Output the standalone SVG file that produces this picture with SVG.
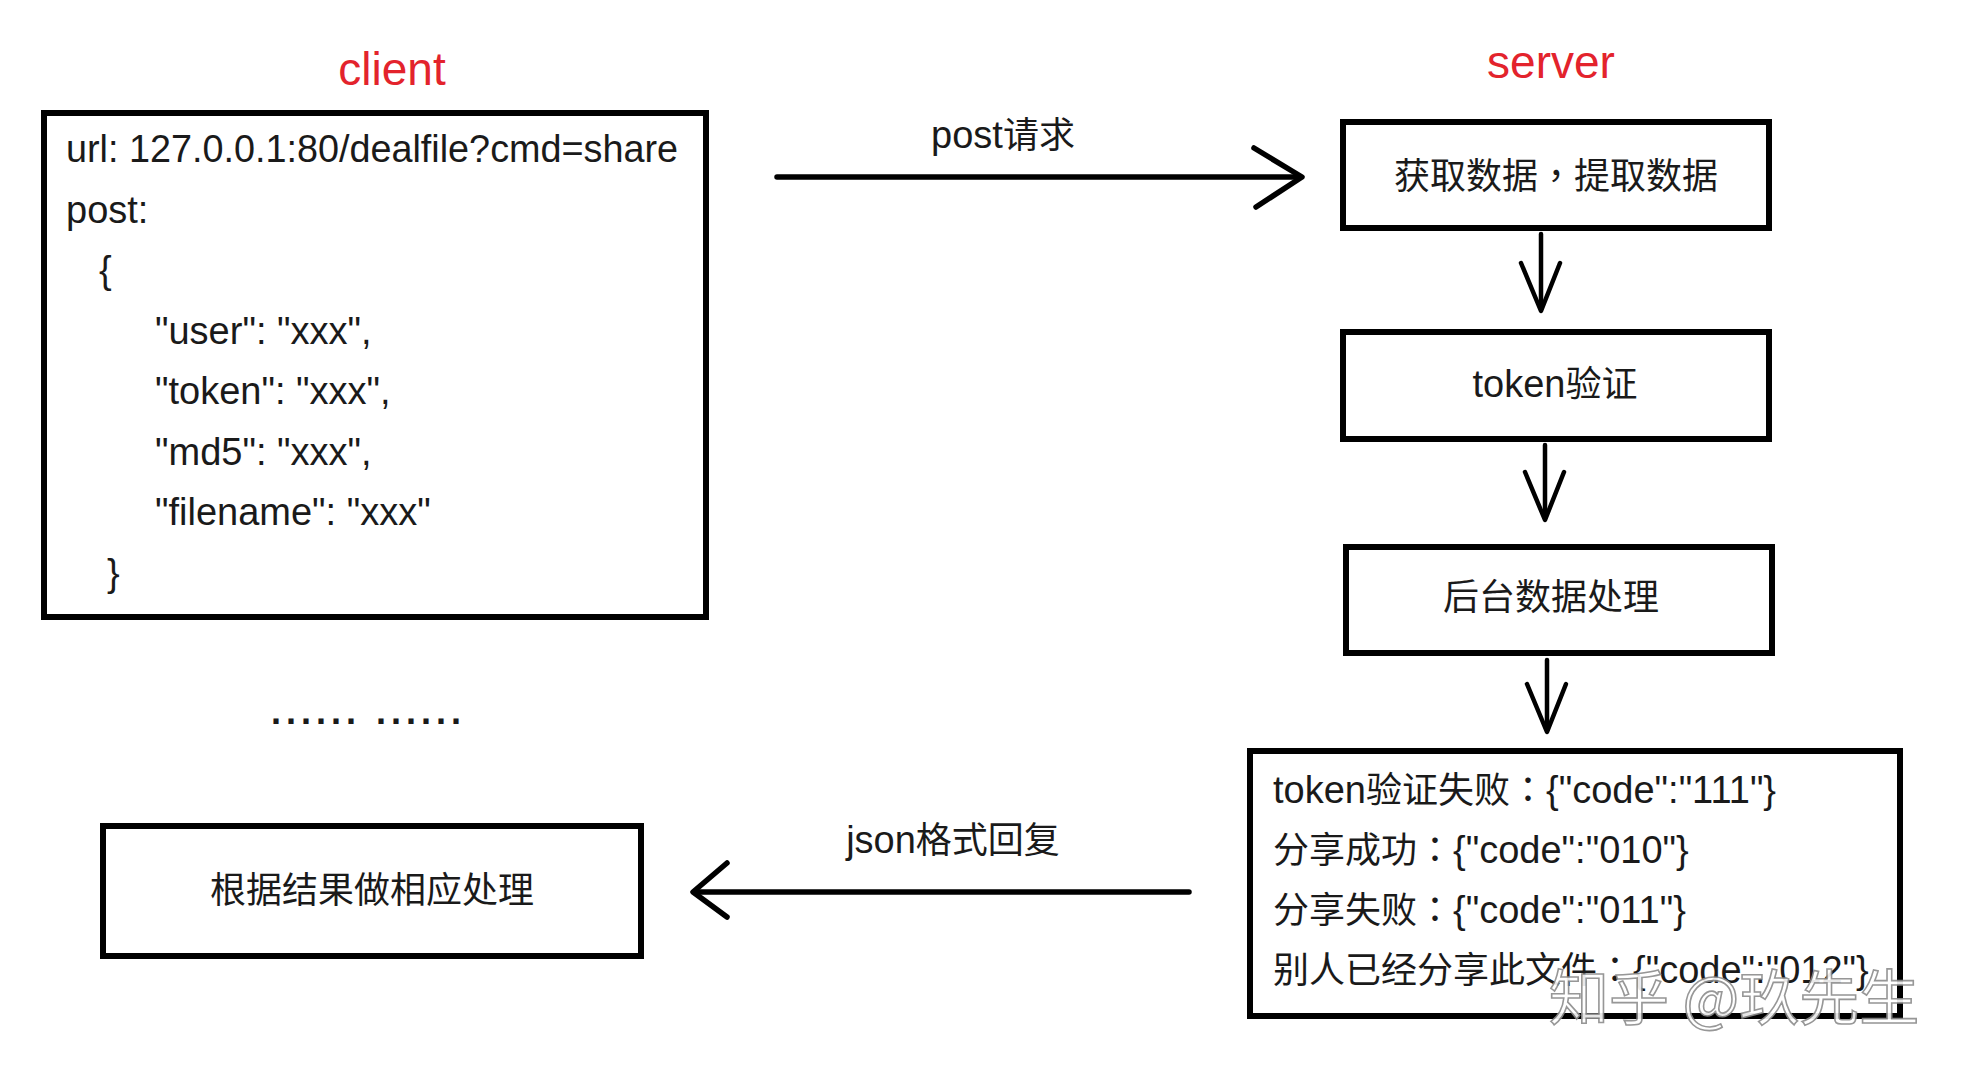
<svg xmlns="http://www.w3.org/2000/svg" width="1964" height="1080" viewBox="0 0 1964 1080">
<style>
  .t { font-family: "Liberation Sans", "Noto Sans CJK SC", sans-serif; font-size: 36px; fill: #1a1a1a; }
  .l { font-size: 38px; }
  .p { font-family: "Noto Sans CJK TC", sans-serif; }
  .c { text-anchor: middle; }
  .title { font-family: "Liberation Sans", "Noto Sans CJK SC", sans-serif; font-size: 46px; fill: #e3232c; text-anchor: middle; }
  .box { fill: #ffffff; stroke: #000000; stroke-width: 6; }
  .line { fill: none; stroke: #000000; stroke-width: 5.5; stroke-linecap: round; stroke-linejoin: round; }
  .vline { fill: none; stroke: #000000; stroke-width: 4.5; stroke-linecap: round; stroke-linejoin: round; }
  .wm { font-family: "Noto Sans CJK SC", sans-serif; font-size: 60px; fill: #ffffff; stroke: #8c8c8c; stroke-width: 1.6; opacity: 0.9; }
</style>
<rect width="1964" height="1080" fill="#ffffff"/>

<text class="title" x="392" y="85">client</text>
<text class="title" x="1551" y="78">server</text>

<g id="client-request">
  <rect class="box" x="44" y="113" width="662" height="504"/>
  <text class="t l" x="66" y="162" textLength="612" lengthAdjust="spacingAndGlyphs">url: 127.0.0.1:80/dealfile?cmd=share</text>
  <text class="t l" x="66" y="223">post:</text>
  <text class="t l" x="99" y="283">{</text>
  <text class="t l" x="155" y="344">"user": "xxx",</text>
  <text class="t l" x="155" y="404">"token": "xxx",</text>
  <text class="t l" x="155" y="465">"md5": "xxx",</text>
  <text class="t l" x="155" y="525">"filename": "xxx"</text>
  <text class="t l" x="107" y="586">}</text>
</g>

<g id="ellipsis">
  <text class="t c" x="366" y="724" textLength="190" lengthAdjust="spacing" font-weight="bold">...... ......</text>
</g>

<g id="server-fetch">
  <rect class="box" x="1343" y="122" width="426" height="106"/>
  <text class="t c" x="1556" y="189">获取数据<tspan class="p">，</tspan>提取数据</text>
</g>

<g id="server-token">
  <rect class="box" x="1343" y="332" width="426" height="107"/>
  <text class="t c" x="1555" y="397"><tspan class="l">token</tspan>验证</text>
</g>

<g id="server-process">
  <rect class="box" x="1346" y="547" width="426" height="106"/>
  <text class="t c" x="1551" y="610">后台数据处理</text>
</g>

<g id="server-reply">
  <rect class="box" x="1250" y="751" width="650" height="265"/>
  <text class="t" x="1273" y="803"><tspan class="l">token</tspan>验证失败<tspan class="p">：</tspan><tspan class="l">{"code":"111"}</tspan></text>
  <text class="t" x="1273" y="863">分享成功<tspan class="p">：</tspan><tspan class="l">{"code":"010"}</tspan></text>
  <text class="t" x="1273" y="923">分享失败<tspan class="p">：</tspan><tspan class="l">{"code":"011"}</tspan></text>
  <text class="t" x="1273" y="983">别人已经分享此文件<tspan class="p">：</tspan><tspan class="l">{"code":"012"}</tspan></text>
</g>

<g id="client-handle">
  <rect class="box" x="103" y="826" width="538" height="130"/>
  <text class="t c" x="372" y="903">根据结果做相应处理</text>
</g>

<g id="connectors">
  <line class="line" x1="777" y1="177" x2="1300" y2="177"/>
  <polyline class="line" points="1254,148 1302,177 1256,207"/>
  <text class="t c" x="1003" y="148"><tspan class="l">post</tspan>请求</text>

  <line class="vline" x1="1541" y1="234" x2="1541" y2="309"/>
  <polyline class="vline" points="1521,263 1541,311 1560,263"/>

  <line class="vline" x1="1545" y1="445" x2="1545" y2="518"/>
  <polyline class="vline" points="1525,472 1545,520 1564,472"/>

  <line class="vline" x1="1547" y1="660" x2="1547" y2="730"/>
  <polyline class="vline" points="1527,684 1547,732 1566,684"/>

  <line class="line" x1="695" y1="892" x2="1189" y2="892"/>
  <polyline class="line" points="727,863 693,892 727,917"/>
  <text class="t c" x="953" y="853"><tspan class="l">json</tspan>格式回复</text>
</g>

<text class="wm" x="1549" y="1020">知乎 @玖先生</text>
</svg>
